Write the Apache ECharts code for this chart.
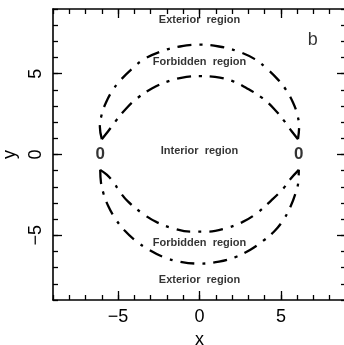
<!DOCTYPE html>
<html><head><meta charset="utf-8">
<script src="https://cdn.jsdelivr.net/npm/echarts@6/dist/echarts.min.js"></script>
<style>html,body{margin:0;padding:0;background:#fff}#c{width:344px;height:345px}</style>
</head><body><div id="c"></div>
<script>
const xRange = [-9, 9];
const yRange = [-9, 9];
const xTickLabels = [-5, 0, 5];
const yTickLabels = [-5, 0, 5];

const outerUpper = [[-6.0,0.95],[-6.12,1.7],[-6.0,2.5],[-5.75,3.2],[-5.35,3.95],[-4.85,4.6],[-4.15,5.3],[-3.4,5.9],[-2.3,6.4],[-1.2,6.68],[0,6.8],[1.2,6.68],[2.3,6.4],[3.4,5.9],[4.15,5.3],[4.85,4.6],[5.35,3.95],[5.75,3.2],[6.0,2.5],[6.12,1.7],[6.05,0.95]];
const innerUpper = [[-6.0,0.95],[-5.6,1.45],[-5.2,2.0],[-4.5,2.85],[-3.8,3.5],[-2.9,4.1],[-1.85,4.55],[-0.8,4.8],[0,4.85],[0.95,4.8],[2.0,4.55],[2.9,4.1],[3.85,3.5],[4.6,2.8],[5.3,1.95],[5.65,1.45],[6.05,0.95]];
const outerLower = [[-6.1,-0.95],[-6.05,-1.75],[-5.9,-2.4],[-5.6,-3.2],[-5.15,-4.0],[-4.6,-4.7],[-3.9,-5.35],[-3.1,-5.9],[-2.2,-6.35],[-1.2,-6.63],[0,-6.75],[1.2,-6.63],[2.2,-6.35],[3.1,-5.9],[3.9,-5.35],[4.6,-4.75],[5.15,-4.05],[5.6,-3.2],[5.9,-2.4],[6.07,-1.7],[6.1,-0.95]];
const innerLower = [[-6.1,-0.95],[-5.7,-1.25],[-5.3,-1.7],[-4.9,-2.3],[-4.4,-2.9],[-3.5,-3.65],[-2.6,-4.2],[-1.5,-4.6],[-0.5,-4.77],[0.5,-4.77],[1.5,-4.6],[2.6,-4.2],[3.5,-3.65],[4.4,-2.85],[5.15,-2.1],[5.6,-1.5],[6.1,-0.95]];

const regionLabels = [[0, 8.3, 'Exterior  region'], [0, 5.75, 'Forbidden  region'], [0, 0.2, 'Interior  region'], [0, -5.47, 'Forbidden  region'], [0, -7.76, 'Exterior  region']];
const pointLabels = [[-6.1, 0.03, '0'], [6.1, 0.03, '0']];
const panelLabel = [[6.95, 7.1, 'b']];

const FONT = '"Liberation Sans", Arial, Helvetica, sans-serif';
const fmt = v => (v < 0 ? '\u2212' + Math.abs(v) : String(v));
const axLine = { show: true, onZero: false, lineStyle: { color: '#000', width: 1.6 } };
const noLine = { show: false, onZero: false };
const tickStyle = { color: '#000', width: 1.3 };

function xAx(pos, major, withLabels) {
  const a = {
    type: 'value', position: pos, min: xRange[0], max: xRange[1],
    splitLine: { show: false },
    axisLine: major ? noLine : axLine,
    axisTick: major ? { show: true, inside: true, length: 9, customValues: xTickLabels, lineStyle: tickStyle }
                    : { show: true, inside: true, length: 5, lineStyle: tickStyle },
    axisLabel: { show: false }
  };
  if (!major) a.interval = 1;
  if (withLabels) {
    a.axisLabel = { show: true, customValues: xTickLabels, formatter: fmt, color: '#000', fontSize: 18, fontFamily: FONT, margin: 8 };
    a.name = 'x'; a.nameLocation = 'middle'; a.nameGap = 28;
    a.nameTextStyle = { color: '#000', fontSize: 18, fontFamily: FONT };
  }
  return a;
}
function yAx(pos, major, withLabels) {
  const a = {
    type: 'value', position: pos, min: yRange[0], max: yRange[1],
    splitLine: { show: false },
    axisLine: major ? noLine : axLine,
    axisTick: major ? { show: true, inside: true, length: 9, customValues: yTickLabels, lineStyle: tickStyle }
                    : { show: true, inside: true, length: 5, lineStyle: tickStyle },
    axisLabel: { show: false }
  };
  if (!major) a.interval = 1;
  if (withLabels) {
    a.axisLabel = { show: true, customValues: yTickLabels, formatter: fmt, rotate: 90, color: '#000', fontSize: 18, fontFamily: FONT, margin: 8 };
    a.name = 'y'; a.nameLocation = 'middle'; a.nameGap = 30; a.nameRotate = 90;
    a.nameTextStyle = { color: '#000', fontSize: 18, fontFamily: FONT };
  }
  return a;
}

const curveStyle = { color: '#000', width: 2.3, type: [14, 8, 3, 8], cap: 'butt' };
function curve(data) {
  return { type: 'line', data: data, xAxisIndex: 0, yAxisIndex: 0, smooth: 0.4, showSymbol: false, symbol: 'none', lineStyle: curveStyle, silent: true, z: 3 };
}
function textSeries(list, size, weight) {
  return {
    type: 'scatter', xAxisIndex: 0, yAxisIndex: 0, symbolSize: 0, silent: true, z: 5,
    itemStyle: { color: '#000' },
    data: list.map(d => ({ value: [d[0], d[1]], name: d[2] })),
    label: { show: true, position: [0, 0], align: 'center', verticalAlign: 'middle', formatter: p => p.name, color: '#000', textBorderWidth: 0, fontSize: size, fontWeight: weight, fontFamily: FONT }
  };
}

const chart = echarts.init(document.getElementById('c'), null, { renderer: 'canvas' });
chart.setOption({
  animation: false,
  backgroundColor: '#fff',
  grid: { left: 53, top: 9, width: 293, height: 291, containLabel: false, outerBoundsMode: 'none' },
  xAxis: [xAx('bottom', false, true), xAx('bottom', true, false), xAx('top', false, false), xAx('top', true, false)],
  yAxis: [yAx('left', false, true), yAx('left', true, false), yAx('right', false, false), yAx('right', true, false)],
  series: [
    curve(outerUpper), curve(innerUpper), curve(outerLower), curve(innerLower),
    textSeries(regionLabels, 11, 'bold'),
    textSeries(pointLabels, 17, 'bold'),
    textSeries(panelLabel, 18, 'normal')
  ]
});
</script></body></html>
